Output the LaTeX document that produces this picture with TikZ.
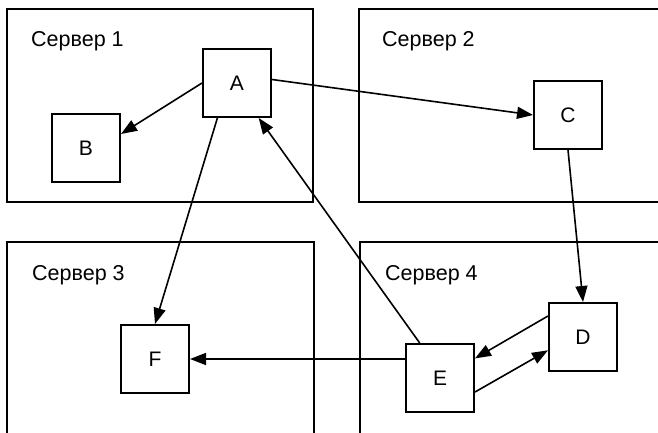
\documentclass[tikz,border=0pt]{standalone}
\usepackage{fontspec}
\setmainfont{Liberation Sans}
\usetikzlibrary{arrows.meta,calc}
\begin{document}
\begin{tikzpicture}[x=1pt,y=-1pt,
  server/.style={draw,line width=2.2pt,rectangle,anchor=north west,inner sep=0pt,outer sep=0pt},
  proc/.style={draw,line width=2pt,rectangle,fill=white,minimum width=68pt,minimum height=68pt,inner sep=0pt,font=\fontsize{21}{23}\selectfont},
  slabel/.style={anchor=base west,inner sep=0pt,font=\fontsize{21.5}{23}\selectfont},
  conn/.style={line width=1.6pt,-{Triangle[length=16pt,width=12pt]}}]
\useasboundingbox (0,0) rectangle (658,433);
\clip (0,0) rectangle (658,433);
\fill[white] (0,0) rectangle (658,433);
% servers
\node[server,minimum width=306pt,minimum height=193pt] (s1) at (7,9) {};
\node[server,minimum width=340pt,minimum height=193pt] (s2) at (359,9) {};
\node[server,minimum width=307pt,minimum height=250pt] (s3) at (7,242) {};
\node[server,minimum width=340pt,minimum height=250pt] (s4) at (360,242) {};
\node[slabel] (l1) at (31,47) {Сервер 1};
\node[slabel] (l2) at (382,47) {Сервер 2};
\node[slabel] (l3) at (32,280) {Сервер 3};
\node[slabel] (l4) at (385,280) {Сервер 4};
% processes
\node[proc] (A) at (237,83) {A};
\node[proc] (B) at (86,148) {B};
\node[proc] (C) at (568,115) {C};
\node[proc] (D) at (583,337) {D};
\node[proc] (E) at (440,378) {E};
\node[proc] (F) at (155,359) {F};
% connectors
\draw[conn] (A.west) -- ($(B.north east)!0.3!(B.south east)$);
\draw[conn] ($(A.north east)!0.45!(A.south east)$) -- (C.west);
\draw[conn] ($(A.south west)!0.22!(A.south east)$) -- (F.north);
\draw[conn] ($(E.north west)!0.21!(E.north east)$) -- ($(A.south west)!0.81!(A.south east)$);
\draw[conn] (C.south) -- (D.north);
\draw[conn] (E.west |- F.east) -- (F.east);
\draw[conn] ($(D.north west)!0.2!(D.south west)$) -- ($(E.north east)!0.22!(E.south east)$);
\draw[conn] ($(E.north east)!0.7!(E.south east)$) -- ($(D.north west)!0.69!(D.south west)$);
\end{tikzpicture}
\end{document}
